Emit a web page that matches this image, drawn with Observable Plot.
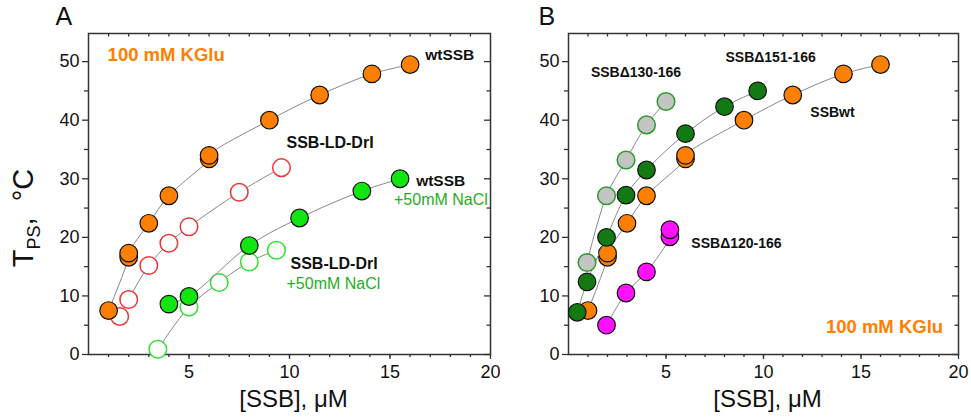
<!DOCTYPE html>
<html><head><meta charset="utf-8">
<script src="https://cdn.jsdelivr.net/npm/d3@7"></script>
<script src="https://cdn.jsdelivr.net/npm/@observablehq/plot@0.6"></script>
<style>
body{margin:0;background:#fff;font-family:"Liberation Sans",Arial,sans-serif}
#row{display:flex;width:971px;height:420px}
</style></head><body><div id="row"></div>
<script>
// ---- Panel A data ----
const wtX = [1, 2, 2, 3, 4, 6, 6, 9, 11.5, 14.1, 16];
const wtY = [7.5, 16.6, 17.3, 22.4, 27.1, 33.4, 34.0, 40.0, 44.3, 47.9, 49.5];
const ldX = [1.55, 2, 3, 4, 5, 7.5, 9.6];
const ldY = [6.5, 9.4, 15.2, 19.0, 21.8, 27.7, 31.9];
const wtNaX = [4, 5, 8, 10.5, 13.6, 15.5];
const wtNaY = [8.6, 9.9, 18.6, 23.3, 27.9, 30.0];
const ldNaX = [3.45, 5, 6.5, 8, 9.35];
const ldNaY = [0.9, 8.1, 12.3, 15.8, 17.8];
// ---- Panel B data ----
const d130X = [0.95, 1.95, 2.95, 4, 5];
const d130Y = [15.7, 27.1, 33.2, 39.2, 43.2];
const d151X = [0.45, 0.95, 1.95, 2.95, 4, 6, 8, 9.7];
const d151Y = [7.2, 12.4, 20.0, 27.2, 31.5, 37.7, 42.3, 45.0];
const d120X = [1.95, 2.95, 4, 5.2, 5.2];
const d120Y = [5.0, 10.5, 14.1, 20.1, 21.3];
// axes
const xMajor = [5, 10, 15, 20];
const xMinor = d3.range(1, 20);
const yMajor = [0, 10, 20, 30, 40, 50];
const yMinor = [5, 15, 25, 35, 45];

const pts = (xs, ys) => xs.map((x, i) => ({x, y: ys[i]}));
const FONT = "Liberation Sans, Arial, sans-serif";
const H = 420, MT = 33, MB = 66;
const FH = H - MT - MB;

function axes(fw) {
  const ax = "#333", sw = 1.3;
  return [
    Plot.axisX(xMajor, {anchor: "bottom", tickSize: 5, tickPadding: 6, fontSize: 18, stroke: ax, color: "#111", label: null, strokeWidth: sw}),
    Plot.axisX(xMinor, {anchor: "bottom", tickSize: 3, text: null, label: null, stroke: ax, strokeWidth: sw}),
    Plot.tickX(xMinor, {x: d => d, insetBottom: FH - 3.5, stroke: ax, strokeWidth: sw}),
    Plot.axisY(yMajor, {anchor: "left", tickSize: 6, tickPadding: 3, fontSize: 18, stroke: ax, color: "#111", label: null, strokeWidth: sw}),
    Plot.axisY(yMinor, {anchor: "left", tickSize: 4, text: null, label: null, stroke: ax, strokeWidth: sw}),
    Plot.tickY(yMajor, {y: d => d, insetLeft: fw - 6, stroke: ax, strokeWidth: sw}),
    Plot.tickY(yMinor, {y: d => d, insetLeft: fw - 3.5, stroke: ax, strokeWidth: sw}),
    Plot.frame({stroke: ax, strokeWidth: 1.5}),
    Plot.text(["[SSB], μM"], {frameAnchor: "bottom", dx: 4, dy: 52, fontSize: 24, fill: "#111"})
  ];
}

function series(data, fill, stroke, sw) {
  return [
    Plot.line(data, {x: "x", y: "y", stroke: "#888", strokeWidth: 1, curve: "catmull-rom"}),
    Plot.dot(data, {x: "x", y: "y", r: 8.8, fill, stroke, strokeWidth: sw})
  ];
}

const labA = [
  {x: 0.95, y: 51.2, t: "100 mM KGlu", c: "#ff8000", w: "bold", s: 18.5},
  {x: 16.75, y: 51.2, t: "wtSSB", c: "#111", w: "bold", s: 15.5},
  {x: 9.85, y: 36.1, t: "SSB-LD-DrI", c: "#111", w: "bold", s: 16},
  {x: 16.3, y: 29.6, t: "wtSSB", c: "#111", w: "bold", s: 15.5},
  {x: 15.2, y: 26.4, t: "+50mM NaCl", c: "#1fae1f", w: "normal", s: 16},
  {x: 10.05, y: 15.4, t: "SSB-LD-DrI", c: "#111", w: "bold", s: 16},
  {x: 9.85, y: 12.0, t: "+50mM NaCl", c: "#1fae1f", w: "normal", s: 16}
];
const labB = [
  {x: 1.15, y: 48.1, t: "SSBΔ130-166", c: "#111", w: "bold", s: 14},
  {x: 8.05, y: 50.7, t: "SSBΔ151-166", c: "#111", w: "bold", s: 14},
  {x: 12.4, y: 41.3, t: "SSBwt", c: "#111", w: "bold", s: 14},
  {x: 6.3, y: 19.0, t: "SSBΔ120-166", c: "#111", w: "bold", s: 14},
  {x: 13.2, y: 4.6, t: "100 mM KGlu", c: "#ff8000", w: "bold", s: 18.5}
];
function labels(arr) {
  return arr.map(d => Plot.text([d], {x: "x", y: "y", text: "t", fill: d.c, fontWeight: d.w, fontSize: d.s, textAnchor: "start"}));
}

const common = {height: H, marginTop: MT, marginBottom: MB, style: {fontFamily: FONT, background: "#fff"},
  x: {domain: [0, 20]}, y: {domain: [0, 54.8]}};

const A = Plot.plot({
  ...common, width: 500, marginLeft: 88, marginRight: 10,
  marks: [
    ...axes(500 - 88 - 10),
    ...series(pts(ldNaX, ldNaY), "white", "#33e033", 1.5),
    ...series(pts(wtNaX, wtNaY), "#11e611", "#111", 1.2),
    ...series(pts(ldX, ldY), "white", "#f03535", 1.5),
    ...series(pts(wtX, wtY), "#ff8000", "#111", 1.2),
    ...labels(labA),
    Plot.text(["A"], {frameAnchor: "top-left", dx: -33, dy: -26, fontSize: 25, textAnchor: "start", fill: "#111"})
  ]
});
const B = Plot.plot({
  ...common, width: 471, marginLeft: 68, marginRight: 13,
  marks: [
    ...axes(471 - 68 - 13),
    ...series(pts(d120X, d120Y), "#ff10ff", "#111", 1.2),
    ...series(pts(wtX, wtY), "#ff8000", "#111", 1.2),
    ...series(pts(d151X, d151Y), "#137a13", "#111", 1.2),
    ...series(pts(d130X, d130Y), "#c4c4c4", "#2a9a2a", 1.5),
    ...labels(labB),
    Plot.text(["B"], {frameAnchor: "top-left", dx: -30, dy: -26, fontSize: 25, textAnchor: "start", fill: "#111"})
  ]
});
document.getElementById("row").append(A, B);

// y-axis title with subscript
const svgA = d3.select(A);
const t = svgA.append("text")
  .attr("transform", "translate(33,218) rotate(-90)")
  .attr("text-anchor", "middle")
  .attr("font-family", FONT)
  .attr("fill", "#111")
  .attr("font-size", 29);
t.append("tspan").text("T");
t.append("tspan").attr("font-size", 18).attr("dy", 7).text("PS");
t.append("tspan").attr("dy", -7).text(",  ");
t.append("tspan").text("°C");
</script></body></html>
